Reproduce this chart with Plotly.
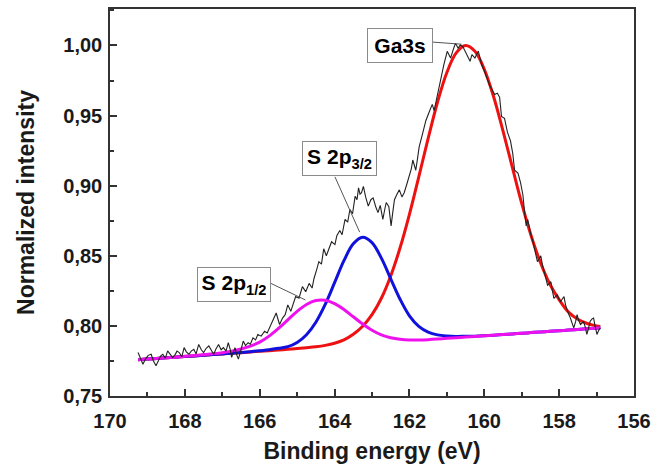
import plotly.graph_objects as go

# ---------------- data ----------------
spec_energy = [
    169.25, 169.18, 169.12, 169.05, 168.98, 168.90, 168.84, 168.77, 168.70, 168.65,
    168.59, 168.52, 168.46, 168.40, 168.33, 168.27, 168.21, 168.15, 168.08, 168.02,
    167.96, 167.89, 167.83, 167.76, 167.70, 167.63, 167.56, 167.50, 167.43, 167.36,
    167.30, 167.23, 167.17, 167.10, 167.03, 166.97, 166.90, 166.84, 166.79, 166.75,
    166.70, 166.66, 166.61, 166.57, 166.50, 166.44, 166.38, 166.31, 166.25, 166.18,
    166.11, 166.05, 165.96, 165.87, 165.80, 165.74, 165.65, 165.56, 165.47, 165.39,
    165.32, 165.25, 165.17, 165.10, 165.04, 164.95, 164.86, 164.77, 164.68, 164.60,
    164.55, 164.48, 164.42, 164.35, 164.29, 164.22, 164.16, 164.08, 163.99, 163.94,
    163.86, 163.80, 163.72, 163.65, 163.59, 163.52, 163.45, 163.40, 163.36, 163.32,
    163.28, 163.23, 163.17, 163.10, 163.03, 162.97, 162.90, 162.84, 162.78, 162.71,
    162.66, 162.62, 162.55, 162.49, 162.44, 162.40, 162.33, 162.27, 162.20, 162.14,
    162.07, 162.00, 161.95, 161.91, 161.87, 161.83, 161.78, 161.74, 161.65, 161.56,
    161.48, 161.39, 161.34, 161.25, 161.17, 161.08, 160.99, 160.90, 160.83, 160.77,
    160.70, 160.64, 160.57, 160.51, 160.45, 160.38, 160.33, 160.25, 160.16, 160.07,
    160.00, 159.94, 159.85, 159.72, 159.65, 159.59, 159.54, 159.46, 159.38, 159.30,
    159.24, 159.19, 159.10, 159.03, 158.97, 158.93, 158.88, 158.84, 158.80, 158.75,
    158.70, 158.66, 158.62, 158.58, 158.53, 158.49, 158.45, 158.40, 158.35, 158.31,
    158.27, 158.22, 158.18, 158.14, 158.09, 158.05, 158.00, 157.96, 157.92, 157.87,
    157.83, 157.78, 157.74, 157.70, 157.65, 157.61, 157.56, 157.52, 157.48, 157.43,
    157.39, 157.35, 157.30, 157.26, 157.21, 157.17, 157.12, 157.08, 157.04, 156.99,
    156.94, 156.90,
]
spec_intensity = [
    0.7810, 0.7770, 0.7727, 0.7765, 0.7790, 0.7798, 0.7750, 0.7716, 0.7760, 0.7785,
    0.7798, 0.7770, 0.7822, 0.7800, 0.7775, 0.7790, 0.7820, 0.7810, 0.7780, 0.7845,
    0.7815, 0.7798, 0.7820, 0.7833, 0.7800, 0.7868, 0.7830, 0.7810, 0.7840, 0.7857,
    0.7825, 0.7798, 0.7835, 0.7868, 0.7830, 0.7845, 0.7820, 0.7880, 0.7835, 0.7775,
    0.7815, 0.7845, 0.7790, 0.7763, 0.7830, 0.7892, 0.7860, 0.7880, 0.7870, 0.7915,
    0.7900, 0.7939, 0.7927, 0.7962, 0.7950, 0.7986, 0.8033, 0.8092, 0.8010, 0.8056,
    0.8080, 0.8150, 0.8104, 0.8160, 0.8209, 0.8197, 0.8280, 0.8244, 0.8303, 0.8270,
    0.8338, 0.8400, 0.8458, 0.8440, 0.8550, 0.8500, 0.8550, 0.8600, 0.8580, 0.8643,
    0.8680, 0.8650, 0.8760, 0.8740, 0.8830, 0.8800, 0.8925, 0.8900, 0.8984, 0.8940,
    0.8950, 0.8995, 0.8920, 0.8854, 0.8900, 0.8913, 0.8850, 0.8808, 0.8860, 0.8760,
    0.8830, 0.8880, 0.8850, 0.8713, 0.8820, 0.8900, 0.8940, 0.8970, 0.8920, 0.8950,
    0.9010, 0.9066, 0.9120, 0.9183, 0.9140, 0.9110, 0.9200, 0.9277, 0.9370, 0.9465,
    0.9520, 0.9580, 0.9535, 0.9650, 0.9770, 0.9864, 0.9958, 0.9910, 0.9970, 1.0016,
    0.9980, 1.0004, 0.9990, 0.9960, 0.9930, 0.9887, 0.9935, 0.9910, 0.9960, 0.9864,
    0.9820, 0.9770, 0.9710, 0.9650, 0.9660, 0.9630, 0.9494, 0.9480, 0.9380, 0.9320,
    0.9230, 0.9110, 0.9090, 0.9020, 0.8937, 0.8830, 0.8713, 0.8760, 0.8700, 0.8643,
    0.8600, 0.8550, 0.8500, 0.8458, 0.8480, 0.8500, 0.8440, 0.8385, 0.8330, 0.8290,
    0.8300, 0.8315, 0.8250, 0.8197, 0.8210, 0.8220, 0.8190, 0.8174, 0.8190, 0.8209,
    0.8150, 0.8104, 0.8080, 0.8056, 0.8020, 0.7986, 0.8030, 0.8080, 0.8040, 0.8010,
    0.8020, 0.8033, 0.7990, 0.7939, 0.7990, 0.8033, 0.8050, 0.8056, 0.8000, 0.7939,
    0.7970, 0.7986,
]

fit_energy = [
    169.25, 169.0, 168.75, 168.5, 168.25, 168.0, 167.75, 167.5, 167.25, 167.0,
    166.75, 166.5, 166.25, 166.0, 165.75, 165.5, 165.25, 165.0, 164.75, 164.5,
    164.25, 164.0, 163.75, 163.5, 163.25, 163.0, 162.75, 162.5, 162.25, 162.0,
    161.75, 161.5, 161.25, 161.0, 160.75, 160.5, 160.25, 160.0, 159.75, 159.5,
    159.25, 159.0, 158.75, 158.5, 158.25, 158.0, 157.75, 157.5, 157.25, 157.0,
    156.9,
]
fit_ga3s = [
    0.7759, 0.7763, 0.7768, 0.7773, 0.7777, 0.7782, 0.7786, 0.7791, 0.7796, 0.7800,
    0.7805, 0.7809, 0.7814, 0.7819, 0.7823, 0.7828, 0.7833, 0.7838, 0.7844, 0.7851,
    0.7861, 0.7876, 0.7900, 0.7940, 0.7998, 0.8080, 0.8197, 0.8356, 0.8557, 0.8796,
    0.9063, 0.9337, 0.9595, 0.9807, 0.9947, 1.0000, 0.9958, 0.9830, 0.9634, 0.9390,
    0.9130, 0.8874, 0.8645, 0.8452, 0.8299, 0.8187, 0.8098, 0.8047, 0.8017, 0.8000,
    0.7996,
]
fit_s2p32 = [
    0.7759, 0.7763, 0.7768, 0.7773, 0.7777, 0.7782, 0.7786, 0.7791, 0.7796, 0.7800,
    0.7805, 0.7810, 0.7816, 0.7823, 0.7830, 0.7840, 0.7852, 0.7882, 0.7937, 0.8026,
    0.8153, 0.8308, 0.8465, 0.8585, 0.8632, 0.8594, 0.8483, 0.8336, 0.8190, 0.8072,
    0.7997, 0.7956, 0.7936, 0.7928, 0.7925, 0.7926, 0.7927, 0.7930, 0.7934, 0.7938,
    0.7943, 0.7947, 0.7952, 0.7957, 0.7961, 0.7966, 0.7970, 0.7975, 0.7980, 0.7984,
    0.7986,
]
fit_s2p12 = [
    0.7759, 0.7763, 0.7768, 0.7773, 0.7777, 0.7783, 0.7788, 0.7794, 0.7801, 0.7809,
    0.7820, 0.7835, 0.7856, 0.7884, 0.7927, 0.7982, 0.8043, 0.8104, 0.8153, 0.8181,
    0.8183, 0.8159, 0.8117, 0.8065, 0.8013, 0.7969, 0.7936, 0.7916, 0.7905, 0.7900,
    0.7900, 0.7902, 0.7906, 0.7911, 0.7915, 0.7920, 0.7924, 0.7929, 0.7934, 0.7938,
    0.7943, 0.7947, 0.7952, 0.7957, 0.7961, 0.7966, 0.7970, 0.7975, 0.7980, 0.7984,
    0.7986,
]

x_ticks = [170, 168, 166, 164, 162, 160, 158, 156]
y_ticks = [0.75, 0.80, 0.85, 0.90, 0.95, 1.00]

# label texts, their box centres and leader lines (data coordinates)
labels = ["Ga3s", "S 2p<sub>3/2</sub>", "S 2p<sub>1/2</sub>"]
label_x = [162.26, 163.87, 166.68]
label_y = [1.0001, 0.9194, 0.8298]
label_w = [56, 65, 64]
leader_x0 = [161.38, 163.99, 165.70]
leader_y0 = [1.0024, 0.9063, 0.8303]
leader_x1 = [160.61, 163.33, 164.78]
leader_y1 = [1.0009, 0.8669, 0.8185]

# ---------------- figure ----------------
FONT = "Liberation Sans, Arial, sans-serif"
fig = go.Figure()

fig.add_trace(go.Scatter(x=fit_energy, y=fit_ga3s, mode="lines",
                         line=dict(color="#ee1111", width=3, shape="spline", smoothing=1)))
fig.add_trace(go.Scatter(x=fit_energy, y=fit_s2p32, mode="lines",
                         line=dict(color="#1111dd", width=3, shape="spline", smoothing=1)))
fig.add_trace(go.Scatter(x=fit_energy, y=fit_s2p12, mode="lines",
                         line=dict(color="#ee11ee", width=3, shape="spline", smoothing=1)))
fig.add_trace(go.Scatter(x=spec_energy, y=spec_intensity, mode="lines",
                         line=dict(color="#222222", width=1.1)))

for i, txt in enumerate(labels):
    fig.add_shape(type="line", xref="x", yref="y",
                  x0=leader_x0[i], y0=leader_y0[i], x1=leader_x1[i], y1=leader_y1[i],
                  line=dict(color="#555555", width=1))
    fig.add_annotation(x=label_x[i], y=label_y[i], xref="x", yref="y",
                       text=txt, showarrow=False,
                       font=dict(family=FONT, size=21, color="black", weight="bold"),
                       bgcolor="white", bordercolor="#8a8a8a", borderwidth=1,
                       borderpad=4, width=label_w[i], height=25, align="center")

axis_common = dict(
    showline=True, linecolor="#333333", linewidth=1.5, mirror=True,
    ticks="inside", tickcolor="#333333", tickwidth=1.5, ticklen=7,
    showgrid=False, zeroline=False,
    tickfont=dict(family=FONT, size=20, color="#1a1a1a", weight="bold"),
)

fig.update_xaxes(
    range=[170, 156], tickvals=x_ticks, ticklabelstandoff=6,
    minor=dict(ticks="inside", ticklen=4, tickwidth=1.5, tickcolor="#333333", dtick=1),
    title=dict(text="Binding energy (eV)", standoff=12,
               font=dict(family=FONT, size=23, color="#1a1a1a", weight="bold")),
    **axis_common,
)
fig.update_yaxes(
    range=[0.75, 1.026], tickvals=y_ticks, tickformat=".2f", ticklabelstandoff=2,
    minor=dict(ticks="inside", ticklen=4, tickwidth=1.5, tickcolor="#333333", dtick=0.025,
               tick0=0.75),
    title=dict(text="Normalized intensity", standoff=22,
               font=dict(family=FONT, size=23, color="#1a1a1a", weight="bold")),
    **axis_common,
)

fig.update_layout(
    width=658, height=467,
    margin=dict(l=110, r=17, t=7, b=68),
    paper_bgcolor="white", plot_bgcolor="white",
    showlegend=False,
    separators=", ",
)

fig.write_html("out.html")
